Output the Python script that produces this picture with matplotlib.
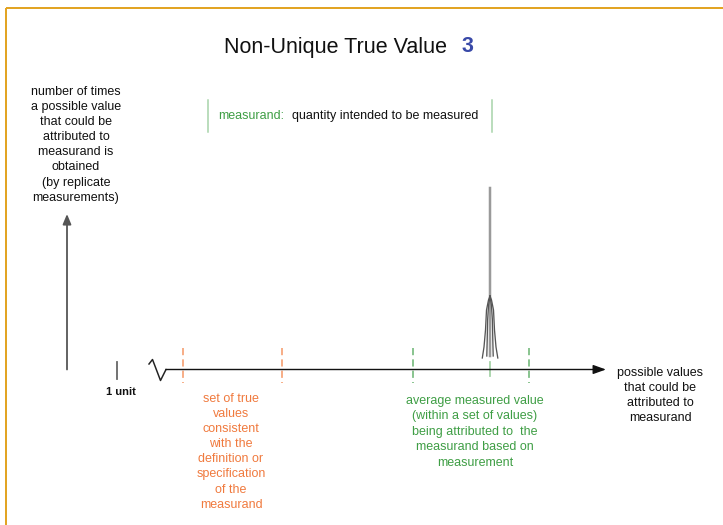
import matplotlib.pyplot as plt

# Consts
FONT = 'Liberation Sans'
GOLD = '#e2a424'
ORANGE_TXT = '#f07a3e'
ORANGE_DASH = '#f7a77c'
GREEN_TXT = '#3f9e45'
GREEN_DASH = '#7fbf85'
GREEN_BOX = '#a5d3a8'
TITLE_BLUE = '#3949a8'

# diagram data (pixel units of the 723x525 canvas, y downward)
title_text = 'Non-Unique True Value'
title_num = '3'

y_label_lines = ['number of times', 'a possible value', 'that could be', 'attributed to',
                 'measurand is', 'obtained', '(by replicate', 'measurements)']
x_label_lines = ['possible values', 'that could be', 'attributed to', 'measurand']
orange_lines = ['set of true', 'values', 'consistent', 'with the', 'definition or',
                'specification', 'of the', 'measurand']
green_lines = ['average measured value', '(within a set of values)',
               'being attributed to  the', 'measurand based on', 'measurement']

orange_marks = [183, 282]
green_marks = [413, 529]
mean_mark = 490

axis_y = 369.5
axis_x0 = 166
axis_x1 = 606
yaxis_x = 67
yaxis_top = 214

squiggle_x = [149, 152.5, 160.5, 166]
squiggle_y = [364, 359.5, 380.5, 369.5]

peak_top = 188
peak_bottom = 356
# strands of the narrow distribution (x, y)
strand_outer_l = ([490, 488.5, 486.5, 485.5, 484.0, 482.3], [296, 300, 310, 330, 347, 358])
strand_inner_l = ([490, 488.6, 487.6, 487.2, 486.8], [296, 305, 320, 340, 356])
strand_outer_r = ([490, 491.5, 493.5, 494.5, 496.0, 497.8], [296, 300, 310, 330, 347, 358])
strand_inner_r = ([490, 491.4, 492.4, 492.8, 493.2], [296, 305, 320, 340, 356])


def px(w):
	return w * 0.72


def stackText(ax, lines, xc, y0, step, color, size=9):
	for i, line in enumerate(lines):
		ax.text(xc, y0 + i * step, line, ha='center', va='center', color=color,
		        fontsize=size, family=FONT)


def main() -> None:
	fig = plt.figure(figsize=(7.23, 5.25), dpi=100)
	ax = fig.add_axes([0, 0, 1, 1])
	ax.set_xlim(0, 723)
	ax.set_ylim(525, 0)
	ax.axis('off')

	# frame
	ax.plot([5.5, 723], [8, 8], color=GOLD, lw=px(2), solid_capstyle='butt')
	ax.plot([5.5, 5.5], [8, 525], color=GOLD, lw=px(2), solid_capstyle='butt')

	# title
	ax.text(335, 47, title_text, ha='center', va='center', fontsize=15.5, family=FONT, color='#111111')
	ax.text(462, 47, title_num, ha='left', va='center', fontsize=15.5, family=FONT,
	        color=TITLE_BLUE, fontweight='bold')

	# measurand definition box
	for xb in [207.5, 491.5]:
		ax.plot([xb, xb], [100, 132], color=GREEN_BOX, lw=px(1.5))
	ax.text(218, 116, 'measurand:', ha='left', va='center', fontsize=9, family=FONT, color=GREEN_TXT)
	ax.text(292, 116, 'quantity intended to be measured', ha='left', va='center', fontsize=9,
	        family=FONT, color='#111111')

	# y axis
	ax.annotate('', xy=(yaxis_x, yaxis_top), xytext=(yaxis_x, axis_y),
	            arrowprops=dict(arrowstyle='-|>,head_length=0.6,head_width=0.25', color='#555555',
	                            lw=px(1.8), mutation_scale=10, shrinkA=0, shrinkB=0))
	stackText(ax, y_label_lines, 76, 92, 15.1, '#111111')

	# x axis with break
	ax.plot(squiggle_x, squiggle_y, color='#222222', lw=px(1.5))
	ax.annotate('', xy=(axis_x1, axis_y), xytext=(axis_x0, axis_y),
	            arrowprops=dict(arrowstyle='-|>,head_length=0.7,head_width=0.25', color='#111111',
	                            lw=px(1.4), mutation_scale=11, shrinkA=0, shrinkB=0))
	stackText(ax, x_label_lines, 660, 373, 15, '#111111')

	# 1 unit
	ax.plot([117, 117], [362, 379], color='#666666', lw=px(1.8))
	ax.text(121, 392, '1 unit', ha='center', va='center', fontsize=8, family=FONT,
	        color='#111111', fontweight='bold')

	# true value interval
	for xm in orange_marks:
		ax.plot([xm, xm], [348, 383], color=ORANGE_DASH, lw=px(1.8), dashes=(4, 2.3))
	stackText(ax, orange_lines, 231, 399, 15.1, ORANGE_TXT)

	# measured interval
	for xm in green_marks:
		ax.plot([xm, xm], [348, 383], color=GREEN_DASH, lw=px(1.8), dashes=(4, 2.3))
	ax.plot([mean_mark, mean_mark], [362, 376], color=GREEN_BOX, lw=px(1.8))
	stackText(ax, green_lines, 475, 401, 15.4, GREEN_TXT)

	# distribution peak
	ax.plot([mean_mark, mean_mark], [peak_top, peak_bottom], color='#9a9a9a', lw=px(2.5))
	for sx, sy in [strand_outer_l, strand_inner_l, strand_outer_r, strand_inner_r]:
		ax.plot(sx, sy, color='#555555', lw=px(1.3))

	fig.savefig('out.png', dpi=100)


if __name__ == '__main__':
	main()
